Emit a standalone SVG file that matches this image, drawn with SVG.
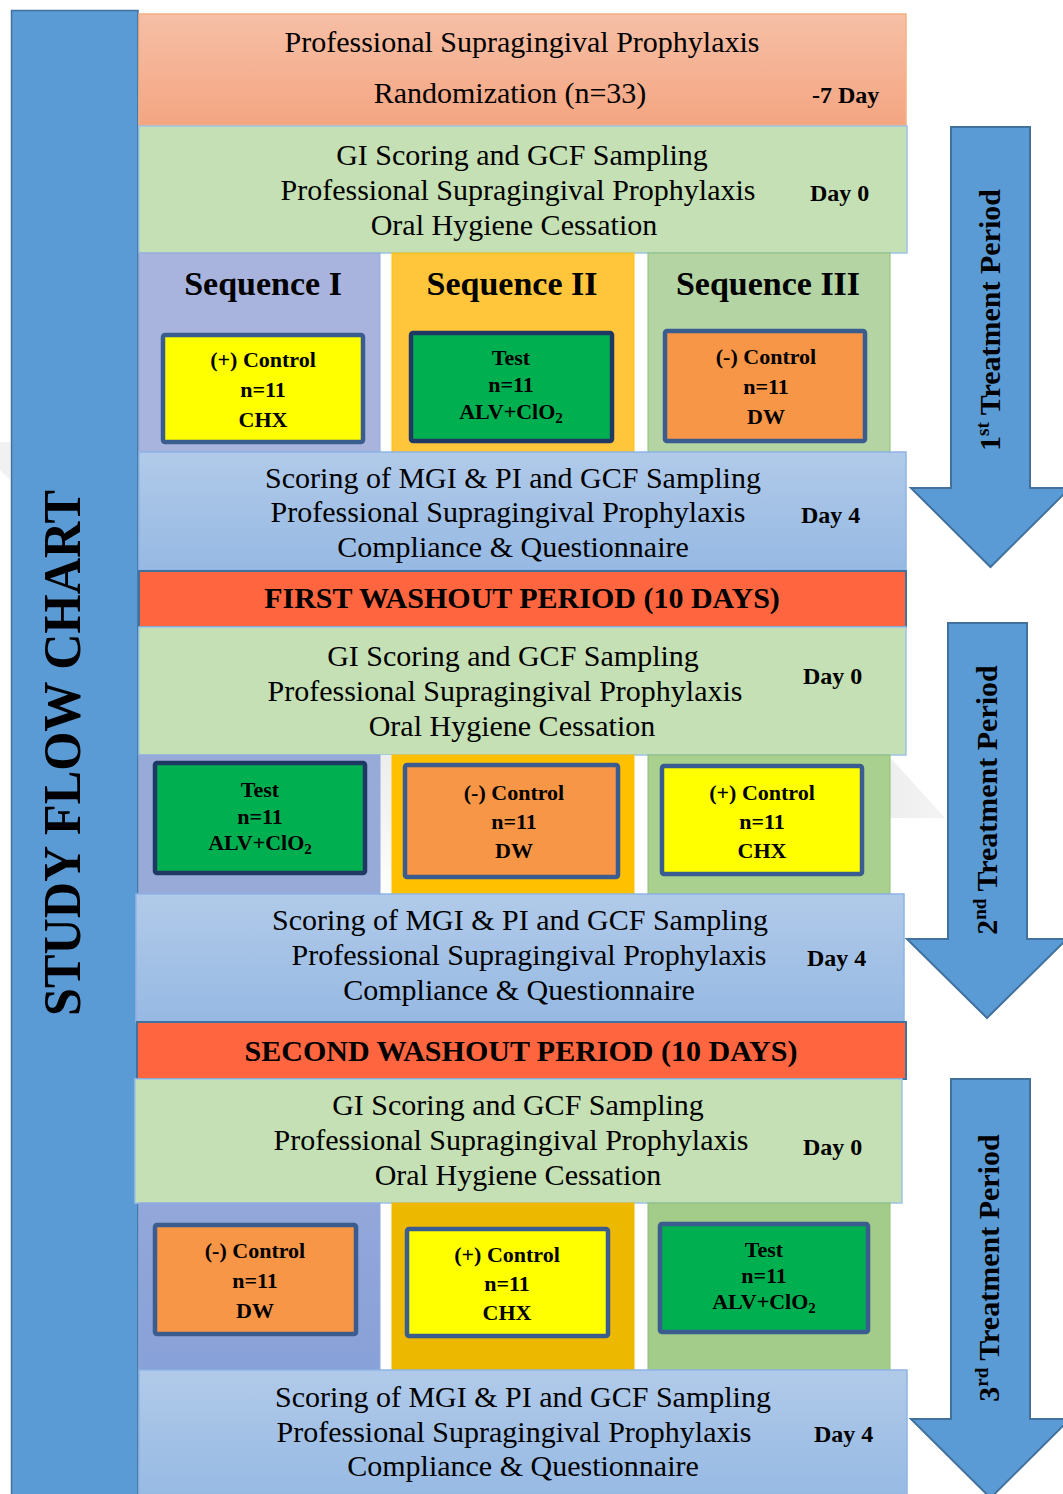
<svg xmlns="http://www.w3.org/2000/svg" width="1063" height="1494" viewBox="0 0 1063 1494">
<defs>
<linearGradient id="gTop" x1="0" y1="0" x2="0" y2="1"><stop offset="0" stop-color="#F6BFA6"/><stop offset="1" stop-color="#F4A581"/></linearGradient>
<linearGradient id="gBlue" x1="0" y1="0" x2="0" y2="1"><stop offset="0" stop-color="#B1CAE9"/><stop offset="1" stop-color="#96B9E3"/></linearGradient>
<linearGradient id="gGap" x1="0" y1="0" x2="0" y2="1"><stop offset="0" stop-color="#EDEDED"/><stop offset="0.5" stop-color="#F5F5F5"/><stop offset="1" stop-color="#FFFFFF"/></linearGradient>
<linearGradient id="gWm" x1="0" y1="0" x2="1" y2="0"><stop offset="0" stop-color="#EEEEEE"/><stop offset="1" stop-color="#F4F4F4"/></linearGradient>
<linearGradient id="gC1r3" x1="0" y1="0" x2="0" y2="1"><stop offset="0" stop-color="#93A7DA"/><stop offset="1" stop-color="#88A1D8"/></linearGradient>
<style>
.t{font-family:"Liberation Serif","Times New Roman",serif;fill:#000}
.m{font-size:30px;text-anchor:middle}
.d{font-size:24px;font-weight:bold}
.seq{font-size:34px;font-weight:bold;text-anchor:middle}
.b{font-size:22px;font-weight:bold;text-anchor:middle}
.w{font-size:30px;font-weight:bold;text-anchor:middle}
.arr{font-size:30px;font-weight:bold;text-anchor:middle}
.green{fill:#C5E0B4;stroke:#9DC3E6;stroke-width:1.5}
.blue{fill:url(#gBlue);stroke:#8EB4E3;stroke-width:1.5}
.wash{fill:#FF6640;stroke:#41719C;stroke-width:2}
.ib{stroke:#3A5C8F;stroke-width:4.5}
.ibd{stroke:#203864;stroke-width:4.5}
.arrow{fill:#5B9BD5;stroke:#41719C;stroke-width:2}
</style>
</defs>
<rect width="1063" height="1494" fill="#FFFFFF"/>
<!-- faint watermark -->
<polygon points="889,756 945,818 889,818" fill="url(#gWm)"/>
<polygon points="0,442 10,442 10,480 0,470" fill="#F1F1F1"/>

<g id="left-bar">
<rect x="11.5" y="10.5" width="126.5" height="1490" fill="#5B9BD5" stroke="#41719C" stroke-width="1.5"/>
<text class="t" transform="translate(80,753) rotate(-90)" font-size="52" font-weight="bold" text-anchor="middle" textLength="526" lengthAdjust="spacingAndGlyphs">STUDY FLOW CHART</text>
</g>

<g id="randomization">
<rect x="139" y="14" width="767" height="112" fill="url(#gTop)" stroke="#F4B183" stroke-width="1.5"/>
<text class="t m" x="522" y="52">Professional Supragingival Prophylaxis</text>
<text class="t m" x="510" y="103">Randomization (n=33)</text>
<text class="t d" x="812" y="103">-7 Day</text>
</g>

<g id="p1-day0">
<rect class="green" x="139" y="126" width="768" height="127"/>
<text class="t m" x="522" y="165">GI Scoring and GCF Sampling</text>
<text class="t m" x="518" y="200">Professional Supragingival Prophylaxis</text>
<text class="t m" x="514" y="235">Oral Hygiene Cessation</text>
<text class="t d" x="810" y="201">Day 0</text>
</g>

<g id="p1-seq1">
<rect x="139" y="253" width="241" height="199" fill="#A9B4DE" stroke="#8FAADC" stroke-width="1"/>
<text class="t seq" x="263" y="295">Sequence I</text>
<rect class="ib" x="163" y="335" width="200" height="107" fill="#FFFF00" rx="2"/>
<text class="t b" x="263" y="367">(+) Control</text>
<text class="t b" x="263" y="397">n=11</text>
<text class="t b" x="263" y="427">CHX</text>
</g>
<g id="p1-seq2">
<rect x="392" y="253" width="242" height="199" fill="#FFC63C" stroke="#FFC000" stroke-width="1"/>
<text class="t seq" x="512" y="295">Sequence II</text>
<rect class="ibd" x="411" y="333" width="201" height="108" fill="#00B050" rx="2"/>
<text class="t b" x="511" y="365">Test</text>
<text class="t b" x="511" y="392">n=11</text>
<text class="t b" x="511" y="419">ALV+ClO<tspan font-size="15" dy="4">2</tspan></text>
</g>
<g id="p1-seq3">
<rect x="648" y="253" width="242" height="199" fill="#B4D4A4" stroke="#8CBF6E" stroke-width="1"/>
<text class="t seq" x="768" y="295">Sequence III</text>
<rect class="ib" x="665" y="331" width="200" height="110" fill="#F79646" rx="2"/>
<text class="t b" x="766" y="364">(-) Control</text>
<text class="t b" x="766" y="394">n=11</text>
<text class="t b" x="766" y="424">DW</text>
</g>

<g id="p1-day4">
<rect class="blue" x="139" y="452" width="767" height="118"/>
<text class="t m" x="513" y="488">Scoring of MGI &amp; PI and GCF Sampling</text>
<text class="t m" x="508" y="522">Professional Supragingival Prophylaxis</text>
<text class="t m" x="513" y="557">Compliance &amp; Questionnaire</text>
<text class="t d" x="801" y="523">Day 4</text>
</g>

<g id="washout1">
<rect class="wash" x="139" y="571" width="767" height="56"/>
<text class="t w" x="522" y="608">FIRST WASHOUT PERIOD (10 DAYS)</text>
</g>

<g id="p2-day0">
<rect class="green" x="139" y="627" width="767" height="128"/>
<text class="t m" x="513" y="666">GI Scoring and GCF Sampling</text>
<text class="t m" x="505" y="701">Professional Supragingival Prophylaxis</text>
<text class="t m" x="512" y="736">Oral Hygiene Cessation</text>
<text class="t d" x="803" y="684">Day 0</text>
</g>

<rect x="380" y="755" width="12" height="139" fill="url(#gGap)"/>
<g id="p2-seq1">
<rect x="139" y="755" width="241" height="139" fill="#98AAD7" stroke="#8FAADC" stroke-width="1"/>
<rect class="ibd" x="155" y="763" width="210" height="110" fill="#00B050" rx="2"/>
<text class="t b" x="260" y="797">Test</text>
<text class="t b" x="260" y="824">n=11</text>
<text class="t b" x="260" y="850">ALV+ClO<tspan font-size="15" dy="4">2</tspan></text>
</g>
<g id="p2-seq2">
<rect x="392" y="755" width="242" height="139" fill="#FFC000" stroke="#FFC000" stroke-width="1"/>
<rect class="ib" x="405" y="765" width="213" height="112" fill="#F79646" rx="2"/>
<text class="t b" x="514" y="800">(-) Control</text>
<text class="t b" x="514" y="829">n=11</text>
<text class="t b" x="514" y="858">DW</text>
</g>
<g id="p2-seq3">
<rect x="648" y="755" width="242" height="139" fill="#A9D08E" stroke="#8CBF6E" stroke-width="1"/>
<rect class="ib" x="662" y="766" width="200" height="108" fill="#FFFF00" rx="2"/>
<text class="t b" x="762" y="800">(+) Control</text>
<text class="t b" x="762" y="829">n=11</text>
<text class="t b" x="762" y="858">CHX</text>
</g>

<g id="p2-day4">
<rect class="blue" x="136" y="894" width="768" height="128"/>
<text class="t m" x="520" y="930">Scoring of MGI &amp; PI and GCF Sampling</text>
<text class="t m" x="529" y="965">Professional Supragingival Prophylaxis</text>
<text class="t m" x="519" y="1000">Compliance &amp; Questionnaire</text>
<text class="t d" x="807" y="966">Day 4</text>
</g>

<g id="washout2">
<rect class="wash" x="137" y="1022" width="769" height="57"/>
<text class="t w" x="521" y="1061">SECOND WASHOUT PERIOD (10 DAYS)</text>
</g>

<g id="p3-day0">
<rect class="green" x="135" y="1079" width="767" height="124"/>
<text class="t m" x="518" y="1115">GI Scoring and GCF Sampling</text>
<text class="t m" x="511" y="1150">Professional Supragingival Prophylaxis</text>
<text class="t m" x="518" y="1185">Oral Hygiene Cessation</text>
<text class="t d" x="803" y="1155">Day 0</text>
</g>

<g id="p3-seq1">
<rect x="139" y="1203" width="241" height="167" fill="url(#gC1r3)" stroke="#8FAADC" stroke-width="1"/>
<rect class="ib" x="155" y="1225" width="201" height="109" fill="#F79646" rx="2"/>
<text class="t b" x="255" y="1258">(-) Control</text>
<text class="t b" x="255" y="1288">n=11</text>
<text class="t b" x="255" y="1318">DW</text>
</g>
<g id="p3-seq2">
<rect x="392" y="1203" width="242" height="167" fill="#EDB800" stroke="#EDB800" stroke-width="1"/>
<rect class="ib" x="407" y="1229" width="201" height="107" fill="#FFFF00" rx="2"/>
<text class="t b" x="507" y="1262">(+) Control</text>
<text class="t b" x="507" y="1291">n=11</text>
<text class="t b" x="507" y="1320">CHX</text>
</g>
<g id="p3-seq3">
<rect x="648" y="1203" width="242" height="167" fill="#A3CB8A" stroke="#8CBF6E" stroke-width="1"/>
<rect class="ib" x="660" y="1224" width="208" height="108" fill="#00B050" rx="2"/>
<text class="t b" x="764" y="1257">Test</text>
<text class="t b" x="764" y="1283">n=11</text>
<text class="t b" x="764" y="1309">ALV+ClO<tspan font-size="15" dy="4">2</tspan></text>
</g>

<g id="p3-day4">
<rect class="blue" x="139" y="1370" width="768" height="130"/>
<text class="t m" x="523" y="1407">Scoring of MGI &amp; PI and GCF Sampling</text>
<text class="t m" x="514" y="1442">Professional Supragingival Prophylaxis</text>
<text class="t m" x="523" y="1476">Compliance &amp; Questionnaire</text>
<text class="t d" x="814" y="1442">Day 4</text>
</g>

<g id="connectors">
<g id="arrow-1st">
<polygon class="arrow" points="951,127 1030,127 1030,488 1070,488 990.5,567 911,488 951,488"/>
<text class="t arr" transform="translate(1000,320) rotate(-90)">1<tspan font-size="19" dy="-11">st</tspan><tspan dy="11"> Treatment Period</tspan></text>
</g>
<g id="arrow-2nd">
<polygon class="arrow" points="948,623 1027,623 1027,939 1067,939 987,1018 907,939 948,939"/>
<text class="t arr" transform="translate(997,800) rotate(-90)">2<tspan font-size="19" dy="-11">nd</tspan><tspan dy="11"> Treatment Period</tspan></text>
</g>
<g id="arrow-3rd">
<polygon class="arrow" points="951,1079 1030,1079 1030,1419 1070,1419 990.5,1498 911,1419 951,1419"/>
<text class="t arr" transform="translate(999,1268) rotate(-90)">3<tspan font-size="19" dy="-11">rd</tspan><tspan dy="11"> Treatment Period</tspan></text>
</g>
</g>
</svg>
